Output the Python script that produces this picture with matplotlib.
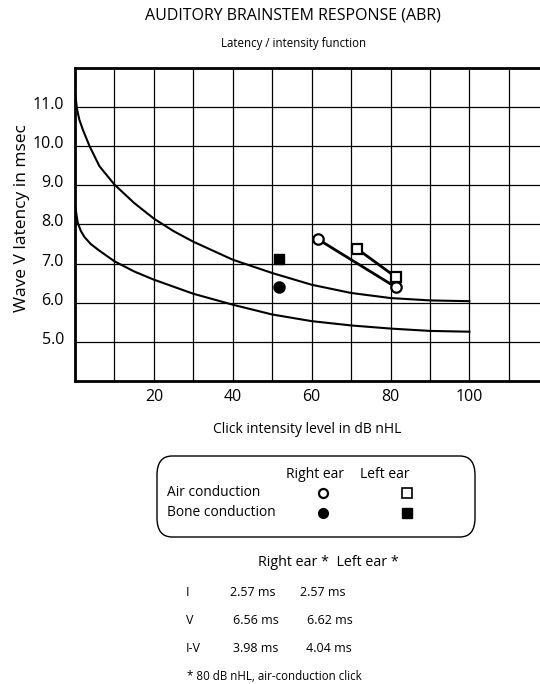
import matplotlib
matplotlib.use("Agg")
import matplotlib.pyplot as plt
from matplotlib.patches import FancyBboxPatch
from matplotlib.transforms import ScaledTranslation

plt.rcParams['font.family'] = ['Open Sans', 'DejaVu Sans']

# norm curves (upper / lower limits)
upper_x = [0.1, 0.5, 1.1, 2, 3.7, 6.2, 10, 15, 20, 25, 30, 40, 50, 60, 70, 80, 90, 100]
upper_y = [11.3, 10.95, 10.68, 10.42, 10.0, 9.49, 9.02, 8.55, 8.15, 7.83, 7.56, 7.1, 6.76, 6.46, 6.25, 6.12, 6.06, 6.04]
lower_x = [0.1, 0.3, 0.7, 1.5, 2.4, 4, 6.2, 10, 15, 20, 30, 40, 50, 60, 70, 80, 90, 100]
lower_y = [8.45, 8.3, 8.04, 7.83, 7.68, 7.5, 7.33, 7.06, 6.8, 6.59, 6.23, 5.95, 5.7, 5.53, 5.42, 5.34, 5.28, 5.26]

# measured wave V latencies
right_air_x = [61.5, 81.3]
right_air_y = [7.63, 6.40]
left_air_x = [71.5, 81.3]
left_air_y = [7.38, 6.66]
right_bone = (51.7, 6.40)
left_bone = (51.7, 7.13)

xticks = [20, 40, 60, 80, 100]
yticks = [5.0, 6.0, 7.0, 8.0, 9.0, 10.0, 11.0]

table_rows = ['I', 'V', 'I-V']
right_ms = ['2.57 ms', '6.56 ms', '3.98 ms']
left_ms = ['2.57 ms', '6.62 ms', '4.04 ms']

fig = plt.figure(figsize=(5.4, 6.84), dpi=100)
ax = fig.add_axes([75 / 540, 1 - 381 / 684, 1 - 75 / 540, (381 - 68) / 684])
ax.set_xlim(0, 117.9)
ax.set_ylim(4, 12)

for gx in range(10, 120, 10):
    ax.axvline(gx, color='black', lw=0.9, zorder=1)
for gy in range(5, 12):
    ax.axhline(gy, color='black', lw=0.9, zorder=1)

ax.plot(upper_x, upper_y, color='black', lw=1.5, zorder=2)
ax.plot(lower_x, lower_y, color='black', lw=1.5, zorder=2)

ax.plot(right_air_x, right_air_y, color='black', lw=2, marker='o', ms=7.5,
        mfc='white', mec='black', mew=1.6, zorder=3)
ax.plot(left_air_x, left_air_y, color='black', lw=2, marker='s', ms=7.5,
        mfc='white', mec='black', mew=1.6, zorder=3)
ax.plot(*right_bone, marker='o', ms=8, color='black', zorder=3)
ax.plot(*left_bone, marker='s', ms=7.5, color='black', zorder=3)

ax.set_xticks(xticks)
ax.set_xticklabels([str(t) for t in xticks])
ax.set_yticks(yticks)
ax.set_yticklabels(['%.1f' % t for t in yticks])
ax.tick_params(length=0, labelsize=11.5, pad=6)
ax.tick_params(axis='y', pad=8)
# y labels sit a little above their grid lines
for lbl in ax.get_yticklabels():
    lbl.set_transform(lbl.get_transform() + ScaledTranslation(0, 0.04, fig.dpi_scale_trans))
for s in ['left', 'top', 'bottom']:
    ax.spines[s].set_linewidth(2)
ax.spines['right'].set_visible(False)

ax.set_ylabel('Wave V latency in msec', fontsize=12.5, va='center')
ax.yaxis.set_label_coords(-0.114, 0.52)
ax.set_xlabel('Click intensity level in dB nHL', fontsize=10, labelpad=12)

fig.text(293 / 540, 1 - 15 / 684, 'AUDITORY BRAINSTEM RESPONSE (ABR)', ha='center', va='center', fontsize=11.5)
fig.text(294 / 540, 1 - 43 / 684, 'Latency / intensity function', ha='center', va='center', fontsize=8.3)

# legend box
box = FancyBboxPatch((157 / 540, 1 - 537 / 684), (475 - 157) / 540, (537 - 456) / 684,
                     boxstyle='round,pad=0,rounding_size=0.028', transform=fig.transFigure,
                     fill=False, ec='black', lw=1)
fig.patches.append(box)
fig.text(315 / 540, 1 - 474 / 684, 'Right ear', ha='center', va='center', fontsize=10)
fig.text(385 / 540, 1 - 474 / 684, 'Left ear', ha='center', va='center', fontsize=10)
fig.text(167 / 540, 1 - 493 / 684, 'Air conduction', ha='left', va='center', fontsize=9.9)
fig.text(167 / 540, 1 - 513 / 684, 'Bone conduction', ha='left', va='center', fontsize=9.9)
fig.lines.append(plt.Line2D([323 / 540], [1 - 493 / 684], marker='o', ms=6.5, mfc='white', mec='black',
                            mew=1.6, transform=fig.transFigure))
fig.lines.append(plt.Line2D([407 / 540], [1 - 493 / 684], marker='s', ms=6.5, mfc='white', mec='black',
                            mew=1.2, transform=fig.transFigure))
fig.lines.append(plt.Line2D([323 / 540], [1 - 513 / 684], marker='o', ms=7, color='black',
                            transform=fig.transFigure))
fig.lines.append(plt.Line2D([407 / 540], [1 - 513 / 684], marker='s', ms=6.5, color='black',
                            transform=fig.transFigure))

# latency table
fig.text(328 / 540, 1 - 563 / 684, 'Right ear *  Left ear *', ha='center', va='center', fontsize=10.3)
col_r = [230, 233, 233]
col_l = [300, 307, 306]
for i, (lab, r, l) in enumerate(zip(table_rows, right_ms, left_ms)):
    y = 1 - (592 + i * 28) / 684
    fig.text(186 / 540, y, lab, ha='left', va='center', fontsize=9)
    fig.text(col_r[i] / 540, y, r, ha='left', va='center', fontsize=9)
    fig.text(col_l[i] / 540, y, l, ha='left', va='center', fontsize=9)
fig.text(187 / 540, 1 - 676 / 684, '* 80 dB nHL, air-conduction click', ha='left', va='center', fontsize=8.3)

plt.savefig('out.png', dpi=100)
